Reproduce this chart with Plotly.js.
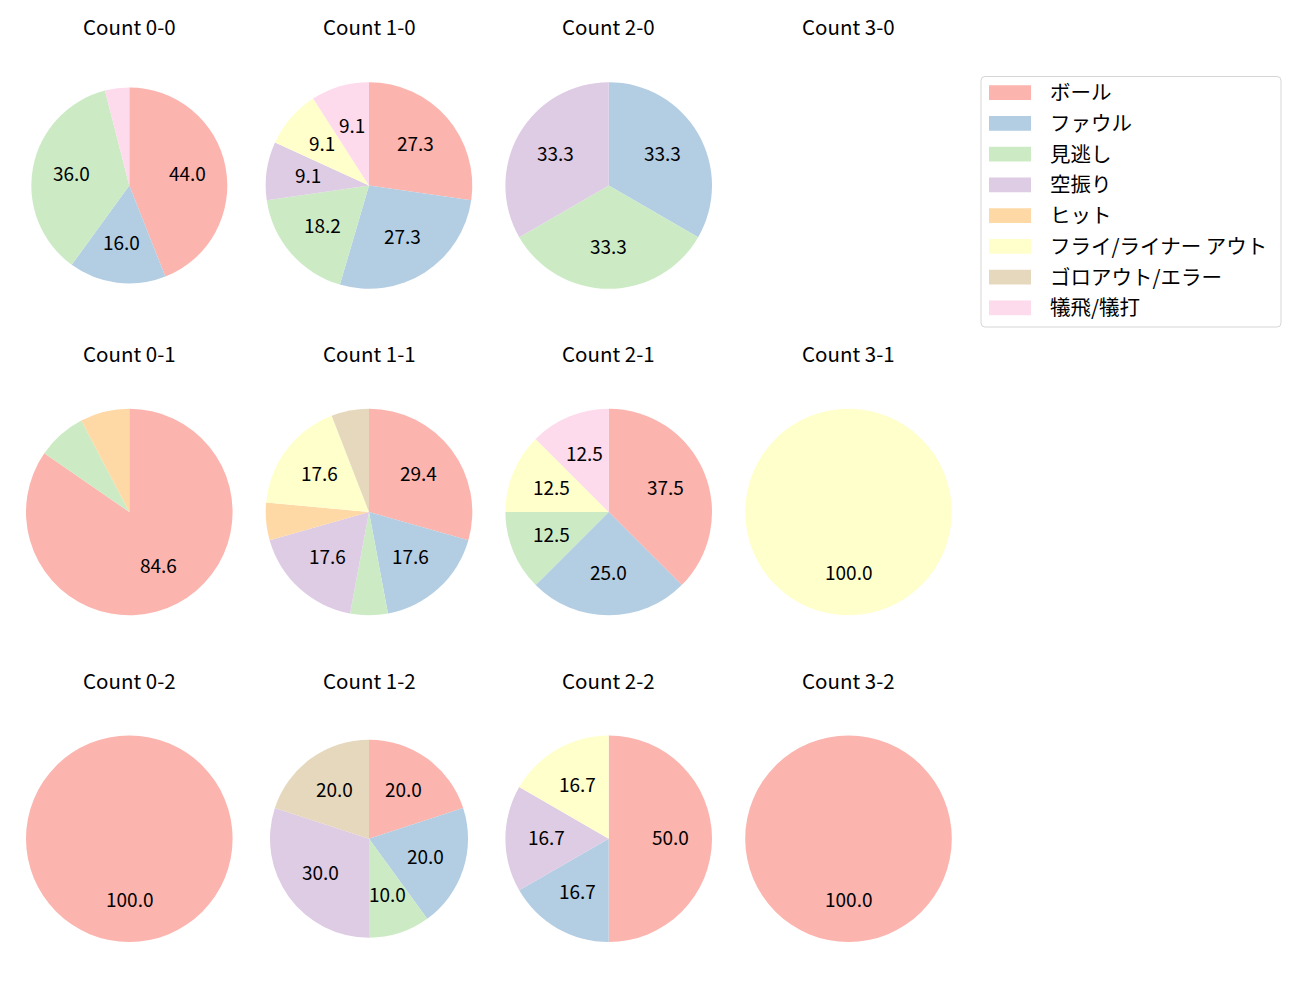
<!DOCTYPE html>
<html>
<head>
<meta charset="utf-8">
<script src="https://cdn.plot.ly/plotly-3.0.1.min.js"></script>
<style>
  html, body { margin: 0; padding: 0; background: #ffffff; }
  #chart { width: 1300px; height: 1000px; }
</style>
</head>
<body>
<div id="chart"></div>
<script>
// ---------- data ----------
const categories = ['ボール', 'ファウル', '見逃し', '空振り', 'ヒット', 'フライ/ライナー アウト', 'ゴロアウト/エラー', '犠飛/犠打'];
const countNames = ['0-0', '1-0', '2-0', '3-0', '0-1', '1-1', '2-1', '3-1', '0-2', '1-2', '2-2', '3-2'];
// pitch outcome counts per ball-strike count, in category order
const count00 = [11, 4, 9, 0, 0, 0, 0, 1];
const count10 = [3, 3, 2, 1, 0, 1, 0, 1];
const count20 = [0, 1, 1, 1, 0, 0, 0, 0];
const count30 = [0, 0, 0, 0, 0, 0, 0, 0];
const count01 = [11, 0, 1, 0, 1, 0, 0, 0];
const count11 = [5, 3, 1, 3, 1, 3, 1, 0];
const count21 = [3, 2, 1, 0, 0, 1, 0, 1];
const count31 = [0, 0, 0, 0, 0, 1, 0, 0];
const count02 = [1, 0, 0, 0, 0, 0, 0, 0];
const count12 = [2, 2, 1, 3, 0, 0, 2, 0];
const count22 = [3, 1, 0, 1, 0, 1, 0, 0];
const count32 = [1, 0, 0, 0, 0, 0, 0, 0];
const countValues = [count00, count10, count20, count30, count01, count11, count21, count31, count02, count12, count22, count32];

// ---------- style / layout ----------
const colors = ['#fbb4ae', '#b3cde3', '#ccebc5', '#decbe4', '#fed9a6', '#ffffcc', '#e5d8bd', '#fddaec'];
const W = 1300, H = 1000;
const FONT = 'Noto Sans CJK JP, Noto Sans, DejaVu Sans, sans-serif';
const colCenters = [129.3, 369, 608.7, 848.5];
const rowCenters = [185.5, 512, 838.7];
const titleY = [28.5, 355, 681.5];
const radii = [[98, 103.3, 103.3, 103.3], [103.3, 103.3, 103.3, 103.3], [103.3, 99, 103.3, 103.3]];
const LABEL_MIN_PCT = 8;

const px = x => x / W;
const py = y => 1 - y / H;

const traces = [];
const annotations = [];
const shapes = [];

countNames.forEach((name, i) => {
  const col = i % 4, row = Math.floor(i / 4);
  const cx = colCenters[col], cy = rowCenters[row], r = radii[row][col];
  const vals = countValues[i];
  const total = vals.reduce((a, b) => a + b, 0);

  annotations.push({
    text: 'Count ' + name, x: px(cx), y: py(titleY[row]), xref: 'paper', yref: 'paper',
    xanchor: 'center', yanchor: 'middle', showarrow: false, yshift: 2,
    font: { family: FONT, size: 20.5, color: '#000000' }
  });

  if (total === 0) return;

  traces.push({
    type: 'pie', labels: categories, values: vals, sort: false,
    direction: 'clockwise', rotation: 0, textinfo: 'none', showlegend: false,
    marker: { colors: colors, line: { width: 0 } },
    hovertemplate: '%{label}: %{value}<extra>Count ' + name + '</extra>',
    domain: { x: [px(cx - r), px(cx + r)], y: [py(cy + r), py(cy - r)] }
  });

  let cum = 0;
  vals.forEach(v => {
    if (v > 0) {
      const pct = 100 * v / total;
      const mid = (90 - 360 * (cum + v / 2) / total) * Math.PI / 180;
      if (pct >= LABEL_MIN_PCT) {
        annotations.push({
          text: pct.toFixed(1),
          x: px(cx + 0.6 * r * Math.cos(mid)), y: py(cy - 0.6 * r * Math.sin(mid)),
          xref: 'paper', yref: 'paper', xanchor: 'center', yanchor: 'middle', showarrow: false, yshift: 2,
          font: { family: FONT, size: 19, color: '#000000' }
        });
      }
    }
    cum += v;
  });
});

// legend box
const lx0 = 981, lx1 = 1281, ly0 = 76.5, ly1 = 327, rr = 4;
shapes.push({
  type: 'path', xref: 'paper', yref: 'paper',
  path: `M ${px(lx0 + rr)} ${py(ly0)} L ${px(lx1 - rr)} ${py(ly0)} Q ${px(lx1)} ${py(ly0)} ${px(lx1)} ${py(ly0 + rr)} ` +
        `L ${px(lx1)} ${py(ly1 - rr)} Q ${px(lx1)} ${py(ly1)} ${px(lx1 - rr)} ${py(ly1)} ` +
        `L ${px(lx0 + rr)} ${py(ly1)} Q ${px(lx0)} ${py(ly1)} ${px(lx0)} ${py(ly1 - rr)} ` +
        `L ${px(lx0)} ${py(ly0 + rr)} Q ${px(lx0)} ${py(ly0)} ${px(lx0 + rr)} ${py(ly0)} Z`,
  line: { color: '#d6d6d6', width: 1 }, fillcolor: 'rgba(255,255,255,0.8)'
});
categories.forEach((cat, k) => {
  const yc = 92.6 + k * 30.75;
  shapes.push({
    type: 'rect', xref: 'paper', yref: 'paper',
    x0: px(989), x1: px(1031), y0: py(yc + 7.3), y1: py(yc - 7.3),
    line: { width: 0 }, fillcolor: colors[k]
  });
  annotations.push({
    text: cat, x: px(1048), y: py(yc), xref: 'paper', yref: 'paper',
    xanchor: 'left', yanchor: 'middle', showarrow: false, yshift: 1.5,
    font: { family: FONT, size: 20.5, color: '#000000' }
  });
});

const layout = {
  width: W, height: H,
  margin: { l: 0, r: 0, t: 0, b: 0 },
  paper_bgcolor: '#ffffff',
  showlegend: false,
  annotations: annotations,
  shapes: shapes
};

Plotly.newPlot('chart', traces, layout, { displayModeBar: false });
</script>
</body>
</html>
